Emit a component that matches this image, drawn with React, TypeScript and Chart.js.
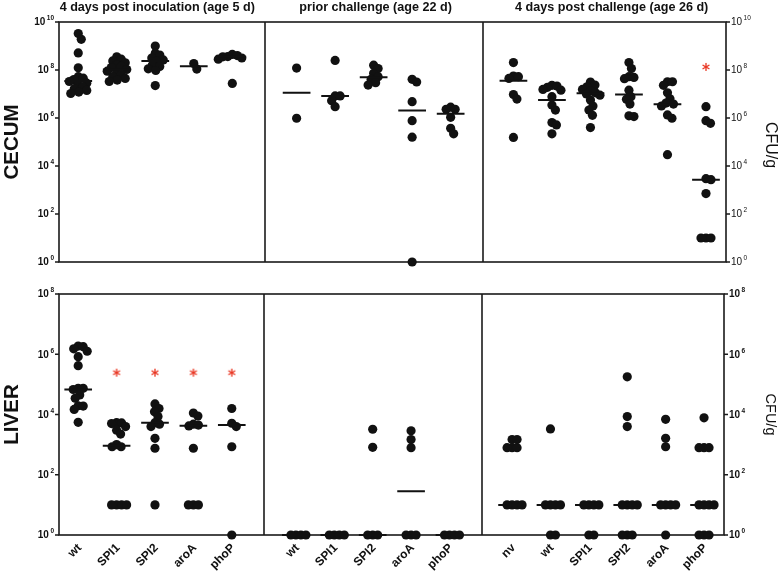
import React, { useEffect, useRef } from 'react';
import { Chart, registerables } from 'chart.js';

Chart.register(...registerables);

const FONT = '"Liberation Sans", Arial, Helvetica, sans-serif';

// ---------- text ----------
const panelTitles = ['4 days post inoculation (age 5 d)', 'prior challenge (age 22 d)', '4 days post challenge (age 26 d)'];
const strainsEarly = ['wt', 'SPI1', 'SPI2', 'aroA', 'phoP'];
const strainsLate = ['nv', 'wt', 'SPI1', 'SPI2', 'aroA', 'phoP'];
const cecumTickExps = [0, 2, 4, 6, 8, 10];
const liverTickExps = [0, 2, 4, 6, 8];
const unitLabel = 'CFU/g';

// ---------- CECUM (log10 CFU/g) ----------
const cecum5Wt = [9.52, 9.28, 8.71, 8.09, 7.72, 7.66, 7.6, 7.52, 7.45, 7.38, 7.3, 7.22, 7.15, 7.08, 7.02];
const cecum5Spi1 = [8.55, 8.45, 8.38, 8.3, 8.22, 8.15, 8.1, 8.02, 7.95, 7.88, 7.8, 7.72, 7.65, 7.58, 7.52];
const cecum5Spi2 = [9.0, 8.7, 8.62, 8.5, 8.42, 8.37, 8.2, 8.15, 8.05, 7.98, 7.35];
const cecum5AroA = [8.27, 8.04];
const cecum5PhoP = [8.65, 8.6, 8.56, 8.55, 8.5, 8.45, 7.44];
const cecum5Medians = [7.54, 8.02, 8.37, 8.16, 8.55];
const cecum5Stars: (number | null)[] = [null, null, null, null, null];

const cecum22Wt = [8.08, 5.99];
const cecum22Spi1 = [8.4, 6.92, 6.92, 6.72, 6.47];
const cecum22Spi2 = [8.2, 8.06, 7.86, 7.72, 7.61, 7.47, 7.37];
const cecum22AroA = [7.61, 7.5, 6.68, 5.89, 5.2, 0];
const cecum22PhoP = [6.45, 6.36, 6.36, 6.03, 5.57, 5.34];
const cecum22Medians = [7.05, 6.92, 7.7, 6.31, 6.18];
const cecum22Stars: (number | null)[] = [null, null, null, null, null];

const cecum26Nv = [8.31, 7.75, 7.72, 7.65, 6.98, 6.79, 5.19];
const cecum26Wt = [7.36, 7.33, 7.28, 7.19, 7.16, 6.89, 6.54, 6.33, 5.81, 5.71, 5.34];
const cecum26Spi1 = [7.5, 7.37, 7.3, 7.19, 7.12, 7.05, 7.0, 6.95, 6.75, 6.5, 6.33, 6.11, 5.6];
const cecum26Spi2 = [8.31, 8.06, 7.72, 7.69, 7.64, 7.16, 6.89, 6.78, 6.58, 6.09, 6.06];
const cecum26AroA = [7.51, 7.51, 7.36, 7.05, 6.8, 6.62, 6.58, 6.5, 6.13, 5.99, 4.47];
const cecum26PhoP = [6.47, 5.89, 5.78, 3.47, 3.43, 2.85, 1, 1, 1];
const cecum26Medians = [7.55, 6.75, 7.03, 6.98, 6.57, 3.43];
const cecum26Stars: (number | null)[] = [null, null, null, null, null, 8.13];

// ---------- LIVER (log10 CFU/g) ----------
const liver5Wt = [6.27, 6.25, 6.18, 6.1, 5.92, 5.62, 4.87, 4.87, 4.83, 4.65, 4.54, 4.29, 4.28, 4.17, 3.74];
const liver5Spi1 = [3.73, 3.72, 3.7, 3.6, 3.48, 3.35, 3.0, 2.93, 2.93, 1, 1, 1, 1];
const liver5Spi2 = [4.35, 4.2, 4.09, 3.93, 3.73, 3.68, 3.6, 3.21, 2.88, 1];
const liver5AroA = [4.05, 3.95, 3.68, 3.65, 3.62, 2.88, 1, 1, 1];
const liver5PhoP = [4.2, 3.71, 3.6, 2.93, 0];
const liver5Medians = [4.83, 2.96, 3.73, 3.63, 3.65];
const liver5Stars: (number | null)[] = [null, 5.39, 5.39, 5.39, 5.39];

const liver22Wt = [0, 0, 0, 0];
const liver22Spi1 = [0, 0, 0, 0];
const liver22Spi2 = [3.51, 2.91, 0, 0, 0];
const liver22AroA = [3.46, 3.17, 2.9, 0, 0, 0];
const liver22PhoP = [0, 0, 0, 0];
const liver22Medians = [0, 0, 0, 1.45, 0];
const liver22Stars: (number | null)[] = [null, null, null, null, null];

const liver26Nv = [3.17, 3.17, 2.9, 2.9, 2.9, 1, 1, 1, 1];
const liver26Wt = [3.52, 1, 1, 1, 1, 0, 0];
const liver26Spi1 = [1, 1, 1, 1, 0, 0];
const liver26Spi2 = [5.25, 3.93, 3.6, 1, 1, 1, 1, 0, 0, 0];
const liver26AroA = [3.84, 3.21, 2.93, 1, 1, 1, 1, 0];
const liver26PhoP = [3.89, 2.9, 2.9, 2.9, 1, 1, 1, 1, 0, 0, 0];
const liver26Medians = [1, 1, 1, 1, 1, 1];
const liver26Stars: (number | null)[] = [null, null, null, null, null, null];

// ---------- layout ----------
const X_MAX = 17.32;
const PANEL_START = [0.5, 6.17, 11.8];
const PANEL_DIVIDERS = [5.35, 11.01];
const MEDIAN_HALF = 0.36;

type PanelSpec = { strains: string[]; series: number[][]; medians: number[]; stars: (number | null)[] };
type RowSpec = {
  name: string;
  ticks: number[];
  maxExp: number;
  panels: PanelSpec[];
  top: number;
  height: number;
  pad: { left: number; right: number; top: number; bottom: number };
  titles: boolean;
  strains: boolean;
  rightBold: boolean;
  unitFont: number;
  unitShift: number;
};

const rows: RowSpec[] = [
  {
    name: 'CECUM',
    ticks: cecumTickExps,
    maxExp: 10,
    panels: [
      { strains: strainsEarly, series: [cecum5Wt, cecum5Spi1, cecum5Spi2, cecum5AroA, cecum5PhoP], medians: cecum5Medians, stars: cecum5Stars },
      { strains: strainsEarly, series: [cecum22Wt, cecum22Spi1, cecum22Spi2, cecum22AroA, cecum22PhoP], medians: cecum22Medians, stars: cecum22Stars },
      { strains: strainsLate, series: [cecum26Nv, cecum26Wt, cecum26Spi1, cecum26Spi2, cecum26AroA, cecum26PhoP], medians: cecum26Medians, stars: cecum26Stars },
    ],
    top: 0,
    height: 280,
    pad: { left: 59, right: 52, top: 22, bottom: 18 },
    titles: true,
    strains: false,
    rightBold: false,
    unitFont: 16,
    unitShift: 3,
  },
  {
    name: 'LIVER',
    ticks: liverTickExps,
    maxExp: 8,
    panels: [
      { strains: strainsEarly, series: [liver5Wt, liver5Spi1, liver5Spi2, liver5AroA, liver5PhoP], medians: liver5Medians, stars: liver5Stars },
      { strains: strainsEarly, series: [liver22Wt, liver22Spi1, liver22Spi2, liver22AroA, liver22PhoP], medians: liver22Medians, stars: liver22Stars },
      { strains: strainsLate, series: [liver26Nv, liver26Wt, liver26Spi1, liver26Spi2, liver26AroA, liver26PhoP], medians: liver26Medians, stars: liver26Stars },
    ],
    top: 280,
    height: 294,
    pad: { left: 59, right: 54, top: 14, bottom: 39 },
    titles: false,
    strains: true,
    rightBold: true,
    unitFont: 14.5,
    unitShift: 0,
  },
];

const groupPos = (p: number, g: number) => PANEL_START[p] + g;

function makeAsterisk(): HTMLCanvasElement {
  const c = document.createElement('canvas');
  c.width = 10;
  c.height = 10;
  const g = c.getContext('2d')!;
  g.strokeStyle = '#e8321e';
  g.lineWidth = 1.3;
  const r = 4;
  for (const ang of [90, 30, 150]) {
    const t = (ang * Math.PI) / 180;
    g.beginPath();
    g.moveTo(5 - r * Math.cos(t), 5 - r * Math.sin(t));
    g.lineTo(5 + r * Math.cos(t), 5 + r * Math.sin(t));
    g.stroke();
  }
  return c;
}

function swarm(pys: number[], dX: number, dY: number, step: number): number[] {
  const placed: { x: number; y: number }[] = [];
  const out: number[] = [];
  for (const y of pys) {
    let off = 0;
    for (let k = 0; k < 1000; k++) {
      const cand = k === 0 ? 0 : (k % 2 === 1 ? 1 : -1) * Math.ceil(k / 2) * step;
      const ok = placed.every((p) => ((p.x - cand) / dX) ** 2 + ((p.y - y) / dY) ** 2 >= 1);
      if (ok) {
        off = cand;
        break;
      }
    }
    placed.push({ x: off, y });
    out.push(off);
  }
  return out;
}

function drawPower(ctx: CanvasRenderingContext2D, exp: number, x: number, y: number, align: 'left' | 'right', bold: boolean) {
  const w = bold ? 'bold ' : '';
  const baseFont = `${w}10px ${FONT}`;
  const expFont = `${w}6.5px ${FONT}`;
  ctx.font = baseFont;
  const wb = ctx.measureText('10').width;
  ctx.font = expFont;
  const we = ctx.measureText(String(exp)).width;
  const gap = 1.5;
  const total = wb + gap + we;
  const x0 = align === 'right' ? x - total : x;
  ctx.textAlign = 'left';
  ctx.textBaseline = 'middle';
  ctx.font = baseFont;
  ctx.fillText('10', x0, y + 0.5);
  ctx.font = expFont;
  ctx.fillText(String(exp), x0 + wb + gap, y - 3.5);
}

function makeDecor(row: RowSpec) {
  return {
    id: 'decor',
    beforeDatasetsDraw(chart: any) {
      const { ctx, chartArea: a, scales } = chart;
      const x = scales.x;
      ctx.save();
      ctx.strokeStyle = '#1a1a1a';
      ctx.lineWidth = 1.6;
      ctx.strokeRect(a.left, a.top, a.right - a.left, a.bottom - a.top);
      for (const d of PANEL_DIVIDERS) {
        const px = Math.round(x.getPixelForValue(d));
        ctx.beginPath();
        ctx.moveTo(px, a.top);
        ctx.lineTo(px, a.bottom);
        ctx.stroke();
      }
      ctx.restore();
    },
    afterDraw(chart: any) {
      const { ctx, chartArea: a, scales } = chart;
      const x = scales.x;
      const y = scales.y;
      ctx.save();
      ctx.fillStyle = '#111';
      ctx.strokeStyle = '#1a1a1a';
      ctx.lineWidth = 1.4;
      for (const e of row.ticks) {
        const py = y.getPixelForValue(10 ** e);
        ctx.beginPath();
        ctx.moveTo(a.left - 4, py);
        ctx.lineTo(a.left, py);
        ctx.moveTo(a.right, py);
        ctx.lineTo(a.right + 4, py);
        ctx.stroke();
        drawPower(ctx, e, a.left - 5, py, 'right', true);
        drawPower(ctx, e, a.right + 5, py, 'left', row.rightBold);
      }
      const midY = (a.top + a.bottom) / 2;
      // row label
      ctx.save();
      ctx.translate(12, midY);
      ctx.rotate(-Math.PI / 2);
      ctx.font = `bold 20.5px ${FONT}`;
      ctx.textAlign = 'center';
      ctx.textBaseline = 'middle';
      ctx.fillText(row.name, 0, 0);
      ctx.restore();
      // unit label
      ctx.save();
      ctx.translate(770, midY + row.unitShift);
      ctx.rotate(Math.PI / 2);
      ctx.font = `${row.unitFont}px ${FONT}`;
      ctx.textAlign = 'center';
      ctx.textBaseline = 'middle';
      ctx.fillText(unitLabel, 0, 0);
      ctx.restore();
      // titles
      if (row.titles) {
        ctx.font = `bold 12.6px ${FONT}`;
        ctx.textAlign = 'center';
        ctx.textBaseline = 'middle';
        row.panels.forEach((panel, p) => {
          const cx = (x.getPixelForValue(groupPos(p, 0)) + x.getPixelForValue(groupPos(p, panel.strains.length - 1))) / 2;
          ctx.fillText(panelTitles[p], cx + 2, 7.5);
        });
      }
      // strain labels
      if (row.strains) {
        ctx.font = `bold 12px ${FONT}`;
        ctx.textAlign = 'right';
        ctx.textBaseline = 'middle';
        row.panels.forEach((panel, p) => {
          panel.strains.forEach((s, g) => {
            const px = x.getPixelForValue(groupPos(p, g));
            ctx.save();
            ctx.translate(px + 1.5, a.bottom + 11);
            ctx.rotate(-Math.PI / 4);
            ctx.fillText(s, 0, 0);
            ctx.restore();
          });
        });
      }
      ctx.restore();
    },
  };
}

function RowChart({ row }: { row: RowSpec }) {
  const ref = useRef<HTMLCanvasElement>(null);
  useEffect(() => {
    const canvas = ref.current!;
    const dots: { x: number; y: number }[] = [];
    const medians: { x: number; y: number | null }[] = [];
    const stars: { x: number; y: number }[] = [];
    row.panels.forEach((panel, p) => {
      panel.series.forEach((vals, g) => {
        const cx = groupPos(p, g);
        vals.forEach((v) => dots.push({ x: cx, y: 10 ** v }));
        const m = panel.medians[g];
        medians.push({ x: cx - MEDIAN_HALF, y: 10 ** m }, { x: cx + MEDIAN_HALF, y: 10 ** m }, { x: cx, y: null });
        const s = panel.stars[g];
        if (s !== null && s !== undefined) stars.push({ x: cx, y: 10 ** s });
      });
    });
    const chart = new Chart(canvas, {
      type: 'scatter',
      data: {
        datasets: [
          {
            label: 'dots',
            data: dots,
            pointRadius: 4.6,
            pointHoverRadius: 4.6,
            backgroundColor: '#111',
            borderColor: '#111',
            borderWidth: 0,
            clip: false as any,
            order: 2,
          },
          {
            label: 'median',
            data: medians as any,
            showLine: true,
            spanGaps: false,
            borderColor: '#111',
            borderWidth: 2,
            pointRadius: 0,
            clip: false as any,
            order: 1,
          },
          {
            label: 'significance',
            data: stars,
            pointStyle: makeAsterisk() as any,
            pointRadius: 5,
            clip: false as any,
            order: 0,
          },
        ],
      },
      options: {
        animation: false,
        responsive: false,
        devicePixelRatio: 1,
        events: [],
        layout: { padding: row.pad },
        scales: {
          x: { type: 'linear', min: 0, max: X_MAX, display: false },
          y: { type: 'logarithmic', min: 1, max: 10 ** row.maxExp, display: false },
        },
        plugins: { legend: { display: false }, tooltip: { enabled: false } },
      },
      plugins: [makeDecor(row) as any],
    });
    // arrange dots of each group as a swarm using the chart's own scales
    const xs: any = chart.scales.x;
    const ys: any = chart.scales.y;
    const unit = xs.getPixelForValue(1) - xs.getPixelForValue(0);
    let i = 0;
    row.panels.forEach((panel, p) => {
      panel.series.forEach((vals, g) => {
        const pys = vals.map((v) => ys.getPixelForValue(10 ** v));
        const offs = swarm(pys, 4.6, 7, 0.5);
        offs.forEach((o, k) => {
          dots[i + k].x = groupPos(p, g) + o / unit;
        });
        i += vals.length;
      });
    });
    chart.update();
    return () => chart.destroy();
  }, [row]);
  return (
    <canvas
      ref={ref}
      width={778}
      height={row.height}
      style={{ position: 'absolute', left: 0, top: row.top, width: 778, height: row.height }}
    />
  );
}

export default function App() {
  return (
    <div style={{ position: 'absolute', left: 0, top: 0, width: 778, height: 574, background: '#fff', overflow: 'hidden' }}>
      {rows.map((r) => (
        <RowChart key={r.name} row={r} />
      ))}
    </div>
  );
}
